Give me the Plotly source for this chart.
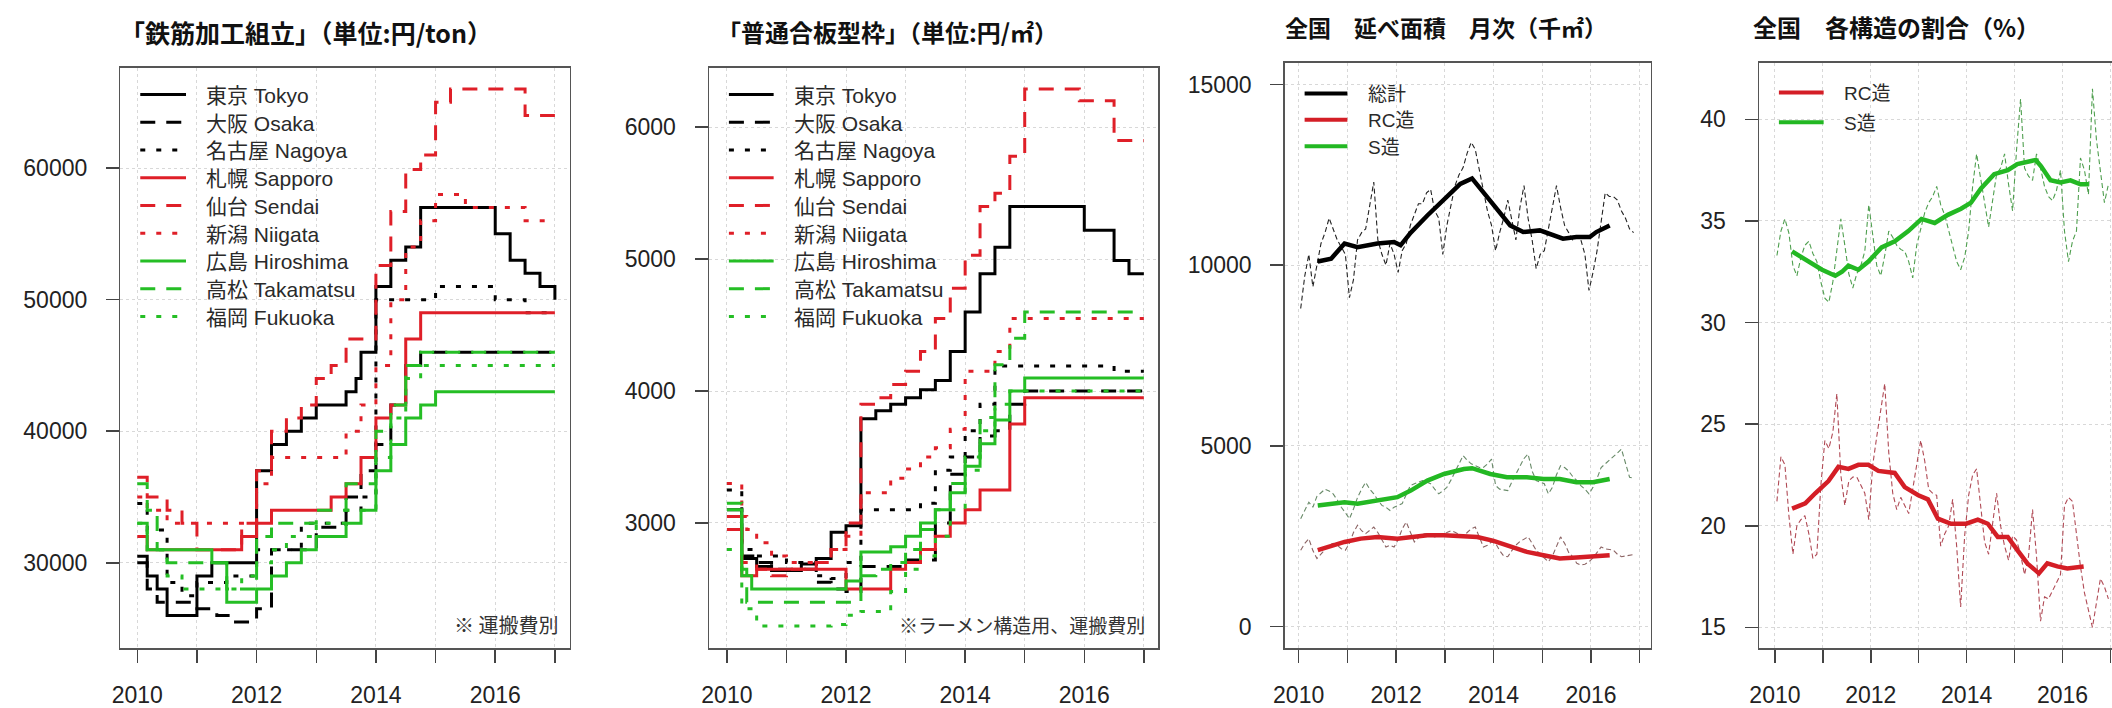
import plotly.graph_objects as go

W, H = 2112, 708
YEAR0 = 2010

# ---------------------------------------------------------------- data ----
x_tick_vals = [2010, 2011, 2012, 2013, 2014, 2015, 2016, 2017]
x_tick_text = ["2010", "", "2012", "", "2014", "", "2016", ""]

city_names = ["東京 Tokyo", "大阪 Osaka", "名古屋 Nagoya", "札幌 Sapporo", "仙台 Sendai",
              "新潟 Niigata", "広島 Hiroshima", "高松 Takamatsu", "福岡 Fukuoka"]

# 鉄筋加工組立 (円/ton): (month since Jan 2010, value) change points of step series
rebar_tokyo = [(0, 30500), (2, 29000), (4, 28000), (6, 26000), (12, 29000), (15, 30000), (24, 37000),
               (27, 39000), (30, 40000), (33, 41000), (36, 42000), (42, 43000), (44, 44000), (45, 46000),
               (48, 51000), (51, 53000), (54, 54000), (57, 57000), (72, 55000), (75, 53000), (78, 52000),
               (81, 51000), (84, 50000)]
rebar_osaka = [(0, 30000), (2, 28000), (4, 27000), (12, 26500), (16, 26000), (19, 25500), (24, 26500),
               (27, 31000), (36, 32700), (42, 35000), (45, 37000), (48, 39000), (51, 42000), (54, 45000),
               (57, 46000), (84, 46000)]
rebar_nagoya = [(0, 34500), (2, 32500), (6, 28500), (9, 27500), (12, 28500), (18, 29000), (24, 31000),
                (33, 33000), (42, 34000), (45, 35000), (48, 50000), (60, 51000), (72, 50000), (78, 49000),
                (84, 49000)]
rebar_sapporo = [(0, 32000), (2, 31000), (21, 32000), (24, 33000), (27, 34000), (39, 35000), (42, 36000),
                 (45, 38000), (48, 41000), (51, 42000), (54, 47000), (57, 49000), (84, 49000)]
rebar_sendai = [(0, 36500), (2, 35000), (6, 34000), (9, 33000), (12, 31000), (21, 33000), (24, 37000),
                (27, 40000), (30, 41000), (33, 42000), (36, 44000), (39, 45000), (42, 47000), (48, 52600),
                (51, 56700), (54, 59900), (57, 61000), (60, 65000), (63, 66000), (78, 64000), (84, 64000)]
rebar_niigata = [(0, 35000), (2, 34000), (6, 33000), (24, 36000), (27, 38000), (42, 40000), (45, 42000),
                 (48, 45000), (51, 50000), (54, 54000), (57, 56000), (60, 58000), (66, 57000), (78, 56000),
                 (84, 56000)]
rebar_hiroshima = [(0, 33000), (2, 31000), (15, 30000), (18, 27000), (24, 28000), (27, 29000), (30, 30000),
                   (33, 31000), (36, 32000), (42, 33000), (45, 34000), (48, 37000), (51, 39000), (54, 41000),
                   (57, 42000), (60, 43000), (84, 43000)]
rebar_takamatsu = [(0, 36000), (2, 34000), (4, 31000), (6, 30000), (18, 28000), (24, 32000), (27, 33000),
                   (36, 34000), (42, 36000), (48, 40000), (51, 42000), (54, 45000), (57, 46000), (84, 46000)]
rebar_fukuoka = [(0, 33000), (2, 31000), (6, 29000), (9, 28000), (21, 29000), (24, 30000), (27, 31000),
                 (30, 32000), (36, 33000), (42, 34000), (48, 38000), (51, 41000), (54, 44000), (57, 45000),
                 (84, 45000)]

# 普通合板型枠 (円/m2)
form_tokyo = [(0, 3100), (3, 2730), (6, 2670), (9, 2640), (15, 2690), (18, 2730), (21, 2930), (24, 2980),
              (27, 3790), (30, 3850), (33, 3900), (36, 3950), (39, 4010), (42, 4080), (45, 4300), (48, 4600),
              (51, 4890), (54, 5090), (57, 5400), (72, 5220), (78, 4990), (81, 4890), (84, 4890)]
form_osaka = [(0, 3050), (3, 2750), (6, 2700), (9, 2650), (18, 2550), (21, 2500), (24, 2480), (27, 2670),
              (36, 2720), (42, 3000), (45, 3370), (48, 3500), (51, 3660), (54, 3700), (57, 3900), (60, 4000),
              (84, 4000)]
form_nagoya = [(0, 3250), (3, 2800), (6, 2750), (12, 2700), (18, 2600), (21, 2580), (24, 2700), (27, 3100),
               (36, 3100), (39, 3150), (42, 3400), (45, 3500), (48, 3700), (51, 3900), (54, 4190), (78, 4150),
               (84, 4150)]
form_sapporo = [(0, 2950), (3, 2600), (6, 2650), (21, 2650), (24, 2500), (33, 2650), (36, 2700), (39, 2800),
                (42, 2900), (45, 3000), (48, 3100), (51, 3250), (57, 3750), (60, 3950), (84, 3950)]
form_sendai = [(0, 3050), (3, 2700), (6, 2650), (9, 2600), (12, 2650), (18, 2700), (21, 2800), (24, 3000),
               (27, 3900), (30, 3950), (33, 4050), (36, 4150), (39, 4300), (42, 4550), (45, 4780), (48, 5030),
               (51, 5400), (54, 5500), (57, 5780), (60, 6290), (71, 6200), (78, 5900), (84, 5900)]
form_niigata = [(0, 3300), (3, 3050), (4, 2950), (6, 2850), (9, 2750), (12, 2700), (18, 2700), (21, 2800),
                (24, 2900), (27, 3230), (33, 3340), (36, 3410), (39, 3500), (42, 3570), (45, 3710), (48, 4150),
                (54, 4300), (57, 4550), (84, 4550)]
form_hiroshima = [(0, 3100), (3, 2600), (5, 2500), (24, 2560), (27, 2780), (33, 2820), (36, 2900),
                  (39, 3000), (42, 3100), (45, 3230), (48, 3430), (51, 3600), (54, 3780), (57, 4000),
                  (60, 4100), (84, 4100)]
form_takamatsu = [(0, 3150), (3, 2650), (4, 2400), (27, 2600), (30, 2650), (33, 2700), (36, 2800),
                  (39, 2950), (42, 3100), (45, 3300), (48, 3500), (51, 3800), (54, 4200), (57, 4400),
                  (60, 4600), (84, 4600)]
form_fukuoka = [(0, 2800), (3, 2350), (6, 2220), (21, 2230), (24, 2300), (27, 2330), (33, 2480), (36, 2650),
                (39, 2750), (42, 2900), (45, 3100), (48, 3400), (51, 3700), (54, 3900), (57, 4000), (84, 4000)]

rebar_series = [rebar_tokyo, rebar_osaka, rebar_nagoya, rebar_sapporo, rebar_sendai, rebar_niigata,
                rebar_hiroshima, rebar_takamatsu, rebar_fukuoka]
form_series = [form_tokyo, form_osaka, form_nagoya, form_sapporo, form_sendai, form_niigata,
               form_hiroshima, form_takamatsu, form_fukuoka]

# 全国 延べ面積 月次 (千m2): monthly raw values from Jan 2010
area_names = ["総計", "RC造", "S造"]
total_raw = [8800, 9700, 10300, 9400, 10000, 10600, 10900, 11300, 11000, 10700,
             10500, 10300, 9100, 9600, 10700, 10900, 11000, 11700, 12300, 10700,
             10300, 10000, 10600, 10300, 9800, 10400, 10600, 11100, 11400, 11700,
             11700, 12000, 12100, 11500, 11300, 10300, 11100, 11700, 12200, 12500,
             12700, 13100, 13400, 13200, 12600, 12100, 11500, 11100, 10400, 10900,
             11300, 11800, 11200, 10700, 11600, 12200, 11300, 10700, 9900, 10300,
             10400, 11000, 11500, 12200, 11600, 11100, 10900, 10700, 10800, 10700,
             10300, 9300, 9800, 10400, 11200, 12000, 11900, 11900, 11800, 11500,
             11300, 11000, 10900]
rc_raw = [2110, 2300, 2430, 2100, 1880, 2000, 2110, 2250, 2300, 2250,
          2150, 2110, 2300, 2600, 2800, 2650, 2570, 2650, 2750, 2600,
          2400, 2200, 2250, 2200, 2400, 2700, 2890, 2600, 2340, 2450,
          2550, 2570, 2520, 2480, 2500, 2570, 2600, 2650, 2610, 2550,
          2480, 2600, 2700, 2750, 2500, 2200, 2250, 2340, 2300, 2100,
          1950, 1930, 2100, 2250, 2350, 2420, 2480, 2300, 2110, 2000,
          1900, 1790, 1950, 2200, 2480, 2300, 2050, 1930, 1750, 1700,
          1720, 1790, 1900, 2050, 2200, 2150, 2120, 2110, 2000, 1930,
          1950, 1970, 1990]
s_raw = [2980, 3200, 3440, 3300, 3600, 3700, 3800, 3750, 3670, 3500,
         3300, 3150, 2980, 3250, 3570, 3800, 3990, 3800, 3670, 3500,
         3350, 3300, 3210, 3300, 3350, 3400, 3650, 3900, 3950, 4000,
         4040, 4000, 3950, 3800, 3670, 3750, 3850, 4050, 4270, 4500,
         4730, 4600, 4500, 4450, 4400, 4400, 4500, 4630, 3900, 3800,
         3780, 3760, 4000, 4220, 4450, 4650, 4770, 4300, 4040, 4000,
         3950, 3670, 3850, 4200, 4450, 4400, 4300, 4150, 4040, 3900,
         3800, 3670, 3850, 4100, 4400, 4500, 4600, 4680, 4800, 4910,
         4500, 4130, 4100]
# 12-month moving averages: (month since Jan 2010, value)
total_smooth = [(4.7, 10100), (8, 10180), (11.3, 10600), (14.5, 10500), (19.4, 10600), (23.5, 10640),
                (25.1, 10550), (27.6, 10900), (31.7, 11375), (35.8, 11834), (39.8, 12250), (42.7, 12400),
                (45.6, 12017), (48.8, 11559), (52.1, 11100), (55.3, 10916), (59.4, 10962), (61.9, 10870),
                (65.1, 10733), (68.4, 10780), (71.7, 10780), (73.3, 10916), (76.6, 11100)]
rc_smooth = [(4.7, 2110), (11.3, 2339), (15.3, 2431), (19.4, 2477), (24.3, 2431), (27.6, 2477),
             (31.7, 2523), (35.8, 2523), (40.7, 2500), (44, 2477), (48, 2367), (52.1, 2202), (56.2, 2064),
             (60.3, 1973), (64.3, 1881), (68.4, 1908), (72.5, 1927), (76.6, 1973)]
s_smooth = [(4.7, 3350), (11.3, 3440), (14.5, 3400), (19.4, 3486), (24.3, 3578), (27.6, 3761),
            (31.7, 4036), (35.8, 4220), (40.7, 4357), (42.7, 4380), (47.2, 4220), (51.3, 4128),
            (56.2, 4128), (60.3, 4082), (64.3, 4082), (68.4, 3990), (72.5, 3990), (76.6, 4082)]

# 全国 各構造の割合 (%)
share_names = ["RC造", "S造"]
pct_rc_raw = [21.2, 23.4, 23.0, 20.5, 18.6, 20.0, 20.3, 20.5, 19.6, 18.4,
              18.6, 22.0, 24.2, 23.8, 24.6, 26.5, 22.5, 21.0, 22.2, 22.4,
              22.4, 22.0, 21.6, 20.3, 23.0, 24.4, 25.8, 27.0, 23.6, 21.6,
              20.8, 21.4, 21.0, 20.6, 21.8, 23.0, 24.2, 23.2, 21.8, 21.6,
              21.5, 19.0, 19.6, 20.0, 21.3, 19.0, 16.0, 19.5, 21.5, 22.5,
              22.8, 21.0, 19.2, 18.6, 20.2, 21.6, 20.0, 19.0, 18.3, 19.5,
              19.3, 18.6, 17.6, 18.5, 20.8, 18.5, 15.3, 16.5, 16.4, 16.8,
              17.2, 17.6, 21.0, 21.4, 21.2, 19.5, 18.0, 16.7, 15.8, 15.0,
              16.2, 17.4, 17.0, 16.4]
pct_s_raw = [33.3, 34.5, 35.1, 34.4, 32.8, 32.3, 33.2, 33.8, 34.0, 33.4,
             33.0, 32.0, 31.2, 31.0, 32.0, 33.5, 35.1, 33.8, 32.4, 31.7,
             32.4, 32.8, 33.5, 35.8, 34.3, 32.8, 32.3, 33.3, 34.5, 34.2,
             33.8, 33.6, 33.5, 33.0, 32.2, 33.8, 34.6, 35.4, 35.9, 36.2,
             36.7, 35.8, 35.3, 34.5, 33.8, 33.0, 32.6, 33.2, 34.5, 36.7,
             38.3, 37.2, 35.9, 34.7, 36.0, 37.3, 37.6, 38.3, 36.8, 35.5,
             38.5, 41.0, 37.6, 37.2, 37.0, 38.3, 37.6, 36.7, 36.2, 36.0,
             36.5, 37.5, 34.5, 33.0, 34.0, 34.5, 38.1, 37.5, 36.3, 41.5,
             39.0, 37.5, 35.9, 36.8]
pct_rc_smooth = [(4.3, 20.84), (7.6, 21.1), (10.1, 21.6), (13.4, 22.2), (15.9, 22.9), (18.4, 22.8),
                 (20.9, 23.0), (23.4, 23.0), (25.9, 22.7), (30, 22.6), (32.5, 21.9), (35.9, 21.5),
                 (38.3, 21.3), (40.8, 20.35), (44.1, 20.1), (47.9, 20.1), (50.8, 20.3), (53.3, 20.1),
                 (55.8, 19.45), (58.3, 19.45), (60.7, 18.8), (63.2, 18.15), (66.1, 17.66), (68.2, 18.15),
                 (70.7, 18.0), (73.2, 17.9), (77.3, 18.0)]
pct_s_smooth = [(4.3, 33.5), (8.5, 33.0), (11.8, 32.6), (15.1, 32.3), (16.8, 32.5), (18.4, 32.8),
                (20.9, 32.6), (23.4, 33.0), (26.7, 33.7), (30, 34.0), (33.4, 34.5), (36.7, 35.1),
                (40, 34.9), (43.3, 35.3), (46.6, 35.6), (49.1, 35.9), (51.6, 36.6), (54.9, 37.3),
                (58.3, 37.5), (60.7, 37.8), (63.2, 37.9), (65.3, 38.0), (66.6, 37.7), (69, 37.0),
                (71.5, 36.9), (74, 37.0), (76.5, 36.8), (78.6, 36.8)]

y1_ticks = [30000, 40000, 50000, 60000]
y2_ticks = [3000, 4000, 5000, 6000]
y3_ticks = [0, 5000, 10000, 15000]
y4_ticks = [15, 20, 25, 30, 35, 40]

titles = ["「鉄筋加工組立」（単位:円/ton）", "「普通合板型枠」（単位:円/㎡）",
          "全国　延べ面積　月次（千㎡）", "全国　各構造の割合（%）"]
notes = ["※ 運搬費別", "※ラーメン構造用、運搬費別"]

# ---------------------------------------------------------------- style ---
RED = "#DF1F28"
GREEN = "#25BE25"
FONT = "Liberation Sans, Arial, Noto Sans CJK JP"
CJK = "Noto Sans CJK JP"
city_colors = ["#000000"] * 3 + [RED] * 3 + [GREEN] * 3
city_dash = ["solid", "15px,11px", "5px,11px"] * 3

panels = [
    dict(x0=109, x1=561, y0=68, y1=652, xr=[2009.717, 2017.25], yr=[23500, 67634], yt=y1_ticks, ymirror=True),
    dict(x0=701, x1=1153, y0=68, y1=652, xr=[2009.70, 2017.245], yr=[2050, 6452], yt=y2_ticks, ymirror=True),
    dict(x0=1280, x1=1648, y0=63, y1=652, xr=[2009.714, 2017.224], yr=[-605, 15605], yt=y3_ticks, ymirror=True),
    dict(x0=1757, x1=2112, y0=63, y1=652, xr=[2009.668, 2017.033], yr=[13.97, 42.79], yt=y4_ticks, ymirror=False),
]
title_pos = [(296, 32), (881, 32), (1442, 27), (1895, 27)]
title_size = [25, 24, 23, 24]

fig = go.Figure()


def months_to_year(m):
    return YEAR0 + m / 12.0


def add_steps(series_list, axis_idx):
    for s, c, d in zip(series_list, city_colors, city_dash):
        fig.add_trace(go.Scatter(
            x=[months_to_year(m) for m, _ in s], y=[v for _, v in s], mode="lines",
            line=dict(color=c, width=3, dash=d, shape="hv"),
            xaxis=f"x{axis_idx}", yaxis=f"y{axis_idx}", showlegend=False, hoverinfo="skip"))


def add_raw(values, axis_idx, color, width=1.1, dash="5px,3px"):
    fig.add_trace(go.Scatter(
        x=[months_to_year(k + 0.5) for k in range(len(values))], y=values, mode="lines",
        line=dict(color=color, width=width, dash=dash),
        xaxis=f"x{axis_idx}", yaxis=f"y{axis_idx}", showlegend=False, hoverinfo="skip"))


def add_smooth(pairs, axis_idx, color, width=4.5):
    fig.add_trace(go.Scatter(
        x=[months_to_year(m) for m, _ in pairs], y=[v for _, v in pairs], mode="lines",
        line=dict(color=color, width=width),
        xaxis=f"x{axis_idx}", yaxis=f"y{axis_idx}", showlegend=False, hoverinfo="skip"))


add_steps(rebar_series, 1)
add_steps(form_series, 2)

add_raw(total_raw, 3, "#222222")
add_raw(rc_raw, 3, "#8c6464")
add_raw(s_raw, 3, "#688a68")
add_smooth(total_smooth, 3, "#000000")
add_smooth(rc_smooth, 3, "#D41E26")
add_smooth(s_smooth, 3, "#23B823")

add_raw(pct_rc_raw, 4, "#b04a55")
add_raw(pct_s_raw, 4, "#4f9f4f")
add_smooth(pct_rc_smooth, 4, "#D41E26")
add_smooth(pct_s_smooth, 4, "#23B823")

layout = dict(width=W, height=H, margin=dict(l=0, r=0, t=0, b=0),
              paper_bgcolor="white", plot_bgcolor="white", showlegend=False)
for i, p in enumerate(panels, start=1):
    common = dict(showline=True, linecolor="#555555", linewidth=1.5,
                  ticks="outside", ticklen=13, tickwidth=1.5, tickcolor="#444444",
                  showgrid=True, gridcolor="#d8d8d8", griddash="dot", gridwidth=1,
                  zeroline=False, tickfont=dict(size=23, color="#222222", family=FONT))
    layout[f"xaxis{i}"] = dict(domain=[p["x0"] / W, min(1.0, p["x1"] / W)], range=p["xr"],
                               anchor=f"y{i}", tickmode="array", tickvals=x_tick_vals,
                               ticktext=x_tick_text, mirror=True, ticklabelstandoff=13, **common)
    layout[f"yaxis{i}"] = dict(domain=[1 - p["y1"] / H, 1 - p["y0"] / H], range=p["yr"],
                               anchor=f"x{i}", tickmode="array", tickvals=p["yt"],
                               ticktext=[str(v) for v in p["yt"]],
                               mirror=p["ymirror"], ticklabelstandoff=14, **common)
fig.update_layout(**layout)

# titles
for t, (cx, cy), fs in zip(titles, title_pos, title_size):
    fig.add_annotation(xref="paper", yref="paper", x=cx / W, y=1 - cy / H, text=f"<b>{t}</b>",
                       showarrow=False, xanchor="center", yanchor="middle",
                       font=dict(size=fs, color="#111111", family=CJK))

# notes
fig.add_annotation(xref="paper", yref="paper", x=551 / W, y=1 - 628 / H, text=notes[0], showarrow=False,
                   xanchor="right", yanchor="middle", font=dict(size=20, color="#333333", family=CJK))
fig.add_annotation(xref="paper", yref="paper", x=1141 / W, y=1 - 628 / H, text=notes[1], showarrow=False,
                   xanchor="right", yanchor="middle", font=dict(size=19, color="#333333", family=CJK))


def add_legend(names, colors, dashes, widths, xl0, xl1, xt, y0, dy, fsize):
    for i, (n, c, d, w) in enumerate(zip(names, colors, dashes, widths)):
        y = y0 + dy * i
        fig.add_shape(type="line", xref="paper", yref="paper", x0=xl0 / W, x1=xl1 / W,
                      y0=1 - y / H, y1=1 - y / H, line=dict(color=c, width=w, dash=d))
        fig.add_annotation(xref="paper", yref="paper", x=xt / W, y=1 - (y + 1) / H, text=n,
                           showarrow=False, xanchor="left", yanchor="middle",
                           font=dict(size=fsize, color="#2a2a2a", family=FONT))


add_legend(city_names, city_colors, city_dash, [3] * 9, 129, 175, 193, 95, 27.9, 21)
add_legend(city_names, city_colors, city_dash, [3] * 9, 721, 766, 784, 95, 27.9, 21)
add_legend(area_names, ["#000000", "#D41E26", "#23B823"], ["solid"] * 3, [4] * 3,
           1300, 1343, 1362, 94, 26.5, 19)
add_legend(share_names, ["#D41E26", "#23B823"], ["solid"] * 2, [4] * 2, 1777, 1822, 1840, 93, 30, 19)

# remove the default 8px page margin so the 2112x708 figure fills the window exactly
fig.write_html("out.html",
               config={"displayModeBar": False, "staticPlot": True},
               post_script="document.body.style.margin='0';document.body.style.overflow='hidden';")
